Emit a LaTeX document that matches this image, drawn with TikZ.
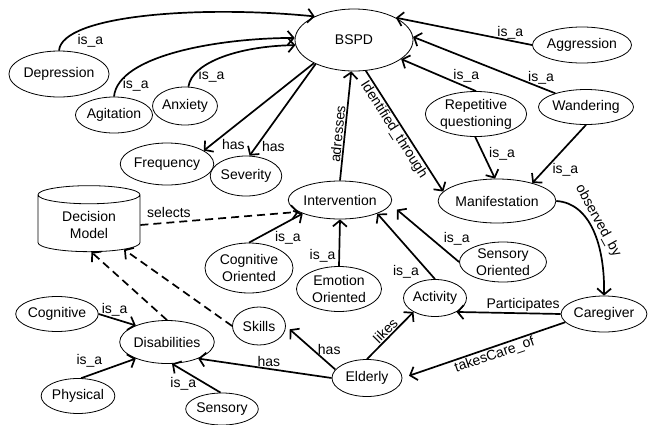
\documentclass[tikz,border=0pt]{standalone}
\usepackage{fontspec}
\setmainfont{Liberation Sans}
\usetikzlibrary{shapes.geometric,arrows.meta}

\begin{document}
\begin{tikzpicture}[x=1pt,y=-1pt,font=\fontsize{14}{17}\selectfont,
  cls/.style={draw,ellipse,line width=.8pt,inner sep=0pt,align=center},
  rel/.style={-{Straight Barb[length=6pt,width=14pt]},line width=1.7pt},
  relback/.style={{Straight Barb[length=6pt,width=14pt]}-,line width=1.7pt},
  sel/.style={rel,dash pattern=on 8pt off 5pt},
  lb/.style={inner sep=1pt}]
\useasboundingbox (0,0) rectangle (649,424);
\node[cls,minimum width=118,minimum height=62] (bspd) at (354,40) {BSPD};
\node[cls,minimum width=92,minimum height=46] (depr) at (59,74) {Depression};
\node[cls,minimum width=72,minimum height=36] (agit) at (114,115) {Agitation};
\node[cls,minimum width=57,minimum height=38] (anx) at (185,106) {Anxiety};
\node[cls,minimum width=76,minimum height=42] (freq) at (167,164) {Frequency};
\node[cls,minimum width=67,minimum height=40] (sev) at (246,176) {Severity};
\node[cls,minimum width=87,minimum height=36] (aggr) at (582,45) {Aggression};
\node[cls,minimum width=101,minimum height=45] (rep) at (476,114) {Repetitive\\questioning};
\node[cls,minimum width=85,minimum height=35] (wand) at (586,107) {Wandering};
\node[cls,minimum width=98,minimum height=44] (manif) at (497,201) {Manifestation};
\node[cls,minimum width=85,minimum height=38] (interv) at (340,200) {Intervention};
\node[draw,cylinder,shape border rotate=90,aspect=.3,line width=.8pt,align=center,
  minimum width=102,minimum height=66] (dm) at (89,225) {Decision\\Model};
\node[cls,minimum width=88,minimum height=50] (cogor) at (249,268) {Cognitive\\Oriented};
\node[cls,minimum width=85,minimum height=45] (emoor) at (339,289) {Emotion\\Oriented};
\node[cls,minimum width=87,minimum height=40] (sensor) at (503,262) {Sensory\\Oriented};
\node[cls,minimum width=63,minimum height=37] (act) at (435,298) {Activity};
\node[cls,minimum width=81,minimum height=36] (care) at (604,314) {Caregiver};
\node[cls,minimum width=70,minimum height=37] (eld) at (367,378) {Elderly};
\node[cls,minimum width=53,minimum height=38] (skills) at (259,326) {Skills};
\node[cls,minimum width=71,minimum height=35] (cogn) at (57,314) {Cognitive};
\node[cls,minimum width=82,minimum height=43] (disab) at (167,342) {Disabilities};
\node[cls,minimum width=67,minimum height=35] (phys) at (78,396) {Physical};
\node[cls,minimum width=67,minimum height=32] (sens) at (222,409) {Sensory};

\draw[rel] (depr.north) .. controls (62,15) and (200,5) .. node[lb,pos=.2,anchor=north west]{is\_a} (bspd.149);
\draw[rel] (agit.north) .. controls (118,55) and (220,38) .. node[lb,pos=.1,right=3pt]{is\_a} (bspd.178);
\draw[rel] (anx.80) .. controls (192,62) and (240,46) .. node[lb,pos=.15,right=4pt]{is\_a} (bspd.185);
\draw[rel] (bspd.210) -- node[lb,pos=.85,anchor=north west]{has} (freq.20);
\draw[rel] (bspd.212) -- node[lb,pos=.9,right=4pt]{has} (sev.80);
\draw[rel] (aggr.west) -- node[lb,pos=.16,above]{is\_a} (bspd.28);
\draw[rel] (wand.156) -- node[lb,pos=.1,above=2pt]{is\_a} (bspd.3);
\draw[rel] (rep.north) -- node[lb,pos=.13,above=3pt]{is\_a} (bspd.-22);
\draw[rel] (bspd.-69) -- node[lb,pos=.45,sloped,below]{Identified\_through} (manif.170);
\draw[rel] (interv.north) -- node[lb,pos=.42,sloped,above]{adresses} (bspd.-95);
\draw[rel] (rep.-92) -- node[lb,pos=.41,right=4pt]{is\_a} (manif.95);
\draw[rel] (wand.south) -- node[lb,pos=.77,right=6pt]{is\_a} (manif.27);
\draw[rel] (manif.east) .. controls (590,203) and (605,245) .. node[lb,pos=.45,sloped,above]{observed\_by} (care.north);
\draw[sel] (dm.east) -- node[lb,pos=.18,above=3pt]{selects} (interv.196);
\draw[rel] (cogor.north) -- node[lb,pos=.45,anchor=north west]{is\_a} (interv.200);
\draw[rel] (emoor.north) -- node[lb,pos=.22,left=2pt]{is\_a} (interv.south);
\draw[rel,shorten >=8pt] (sensor.west) -- node[lb,pos=.25,above right]{is\_a} (interv.-5);
\draw[rel] (act.north) -- node[lb,pos=.11,left=8pt]{is\_a} (interv.-20);
\draw[rel] (care.west) -- node[lb,pos=.36,above]{Participates} (act.-33);
\draw[relback,shorten <=7pt] (eld.east) -- node[lb,pos=.55,sloped,below]{takesCare\_of} (care.192);
\draw[rel] (eld.north) -- node[lb,pos=.5,sloped,above]{likes} (act.213);
\draw[rel,shorten >=5pt] (eld.165) -- node[lb,pos=.45,right=3pt]{has} (skills.east);
\draw[rel] (eld.west) -- node[lb,pos=.47,above]{has} (disab.-28);
\draw[rel] (cogn.east) -- node[lb,pos=.43,above=1pt]{is\_a} (disab.152);
\draw[rel] (phys.80) -- node[lb,pos=.15,above=6pt]{is\_a} (disab.208);
\draw[rel] (sens.95) -- node[lb,pos=.3,left=8pt]{is\_a} (disab.-77);
\draw[sel] (disab.north) -- (dm.-85);
\draw[sel] (skills.west) -- (dm.-35);
\end{tikzpicture}
\end{document}
